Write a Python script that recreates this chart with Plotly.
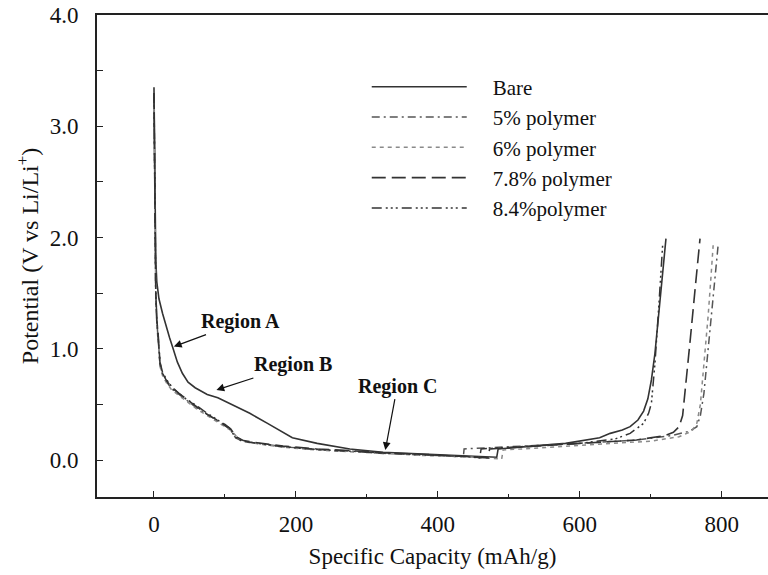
import plotly.graph_objects as go

# ---------------- data ----------------
series_names = ["Bare", "5% polymer", "6% polymer", "7.8% polymer", "8.4%polymer"]

bare_x = [0, 0.5, 1, 1.5, 2.5, 4, 7, 12, 17, 22, 27, 33, 40, 48, 58, 75, 90, 110, 135, 160,
          180, 195, 230, 276, 323, 384, 440, 483, 485, 520, 580, 628, 643, 660, 671, 682, 690,
          696, 701, 706, 711, 715, 718, 721.5]
bare_y = [3.35, 3.0, 2.5, 2.1, 1.8, 1.6, 1.45, 1.32, 1.2, 1.1, 1.0, 0.88, 0.78, 0.7, 0.65, 0.59,
          0.56, 0.5, 0.42, 0.33, 0.26, 0.2, 0.15, 0.1, 0.07, 0.055, 0.04, 0.025, 0.1, 0.12, 0.15,
          0.2, 0.24, 0.27, 0.3, 0.36, 0.44, 0.55, 0.72, 0.96, 1.3, 1.56, 1.8, 1.99]

p5_x = [0, 0.5, 1, 1.5, 2.5, 4, 6, 8.5, 12, 18, 25, 35, 45, 60, 75, 90, 100, 108, 115, 125, 140,
        182, 229, 276, 323, 384, 436, 437, 470, 520, 600, 680, 730, 755, 765, 770, 775, 781, 787,
        792, 795]
p5_y = [3.3, 2.8, 2.2, 1.8, 1.5, 1.25, 1.1, 0.86, 0.77, 0.7, 0.64, 0.59, 0.54, 0.47, 0.41, 0.35,
        0.31, 0.27, 0.2, 0.17, 0.155, 0.12, 0.095, 0.08, 0.06, 0.045, 0.03, 0.1, 0.11, 0.12, 0.15,
        0.18, 0.22, 0.26, 0.3, 0.4, 0.6, 1.0, 1.4, 1.75, 1.93]

p6_x = [0, 0.5, 1, 1.5, 2.5, 4, 6, 8.5, 12, 18, 25, 35, 45, 60, 75, 90, 100, 110, 118, 128, 142,
        182, 229, 276, 323, 384, 440, 490, 492, 540, 620, 700, 740, 758, 765, 770, 775, 781, 785,
        788]
p6_y = [3.3, 2.75, 2.15, 1.75, 1.45, 1.22, 1.08, 0.84, 0.76, 0.69, 0.63, 0.58, 0.53, 0.46, 0.4,
        0.34, 0.3, 0.26, 0.2, 0.165, 0.15, 0.115, 0.09, 0.075, 0.055, 0.04, 0.03, 0.01, 0.09, 0.11,
        0.14, 0.17, 0.21, 0.26, 0.33, 0.5, 0.85, 1.3, 1.65, 1.93]

p78_x = [0, 0.5, 1, 1.5, 2.5, 4, 6, 8.5, 12, 18, 25, 35, 45, 60, 75, 90, 100, 108, 116, 126,
         140, 182, 229, 276, 323, 384, 440, 471, 473, 520, 600, 680, 720, 732, 740, 745, 750, 756,
         762, 766, 769.5]
p78_y = [3.3, 2.8, 2.2, 1.8, 1.5, 1.26, 1.12, 0.87, 0.78, 0.71, 0.65, 0.6, 0.55, 0.48, 0.41, 0.36,
         0.32, 0.28, 0.21, 0.175, 0.16, 0.125, 0.1, 0.085, 0.065, 0.05, 0.035, 0.02, 0.1, 0.12,
         0.15, 0.18, 0.22, 0.25, 0.3, 0.4, 0.7, 1.1, 1.5, 1.8, 1.99]

p84_x = [0, 0.5, 1, 1.5, 2.5, 4, 6, 8.5, 12, 18, 25, 35, 45, 60, 75, 90, 100, 106, 114, 124,
         140, 182, 229, 276, 323, 384, 430, 459, 461, 520, 600, 650, 671, 690, 697, 701, 706, 712,
         715, 717]
p84_y = [3.3, 2.85, 2.25, 1.85, 1.52, 1.27, 1.12, 0.88, 0.79, 0.72, 0.66, 0.6, 0.55, 0.49, 0.42,
         0.36, 0.31, 0.29, 0.21, 0.17, 0.155, 0.12, 0.095, 0.08, 0.06, 0.045, 0.035, 0.02, 0.1,
         0.12, 0.15, 0.19, 0.24, 0.33, 0.42, 0.51, 0.87, 1.44, 1.75, 1.95]

series_x = [bare_x, p5_x, p6_x, p78_x, p84_x]
series_y = [bare_y, p5_y, p6_y, p78_y, p84_y]

x_range = [-80.3, 865.3]
y_range = [-0.332, 4.0]

# annotation anchor points (data units) and label offsets (pixels)
region_labels = ["Region A", "Region B", "Region C"]
region_tip_x = [28, 88, 326]
region_tip_y = [1.02, 0.63, 0.09]
region_label_dx = [67, 77, 12]
region_label_dy = [-25, -25, -64]

# ---------------- styling ----------------
styles = [
    dict(color="#333333", width=1.6, dash="solid"),
    dict(color="#555555", width=1.5, dash="8px,4px,2px,4px"),
    dict(color="#8a8a8a", width=1.5, dash="4px,4px"),
    dict(color="#333333", width=1.6, dash="14px,6px"),
    dict(color="#333333", width=1.5, dash="10px,4px,2px,3px,2px,3px,2px,4px"),
]

FONT = "Liberation Serif"
NBSP = "\u00a0"

fig = go.Figure()
for name, xs, ys, st in zip(series_names, series_x, series_y, styles):
    fig.add_trace(go.Scatter(x=xs, y=ys, mode="lines", name=NBSP * 4 + name, line=st))

for lab, tx, ty, dx, dy in zip(region_labels, region_tip_x, region_tip_y,
                               region_label_dx, region_label_dy):
    fig.add_annotation(x=tx, y=ty, ax=dx, ay=dy, axref="pixel", ayref="pixel",
                       text="<b>" + lab + "</b>", showarrow=True, arrowhead=2,
                       arrowsize=1.3, arrowwidth=1.2, arrowcolor="#111111",
                       font=dict(family=FONT, size=20, color="#111111"))

fig.update_layout(
    width=768, height=575,
    margin=dict(l=97, r=0, t=15, b=78),
    paper_bgcolor="white", plot_bgcolor="white",
    font=dict(family=FONT, size=21, color="#111111"),
    showlegend=True,
    legend=dict(x=0.402, y=0.893, xanchor="left", yanchor="top",
                bgcolor="rgba(0,0,0,0)", font=dict(family=FONT, size=21, color="#111111"),
                itemwidth=95, tracegroupgap=0),
)
fig.update_xaxes(
    range=x_range, tick0=0, dtick=200,
    ticks="inside", ticklen=6, tickwidth=1.2, tickcolor="#222222",
    minor=dict(dtick=100, tick0=0, ticks="inside", ticklen=3, tickwidth=1, tickcolor="#222222"),
    showline=True, linewidth=2, linecolor="#222222", mirror=True,
    showgrid=False, zeroline=False,
    tickfont=dict(family=FONT, size=23), ticklabelstandoff=5,
    title=dict(text="Specific Capacity (mAh/g)", font=dict(family=FONT, size=23), standoff=12),
)
fig.update_yaxes(
    range=y_range, tick0=0, dtick=1.0, tickformat=".1f",
    ticks="inside", ticklen=6, tickwidth=1.2, tickcolor="#222222",
    minor=dict(dtick=0.5, tick0=0, ticks="inside", ticklen=6, tickwidth=1.2, tickcolor="#222222"),
    showline=True, linewidth=2, linecolor="#222222", mirror=False,
    showgrid=False, zeroline=False,
    tickfont=dict(family=FONT, size=23), ticklabelstandoff=12,
    title=dict(text="Potential (V vs Li/Li<sup>+</sup>)", font=dict(family=FONT, size=24), standoff=4),
)

fig.write_html("out.html")
